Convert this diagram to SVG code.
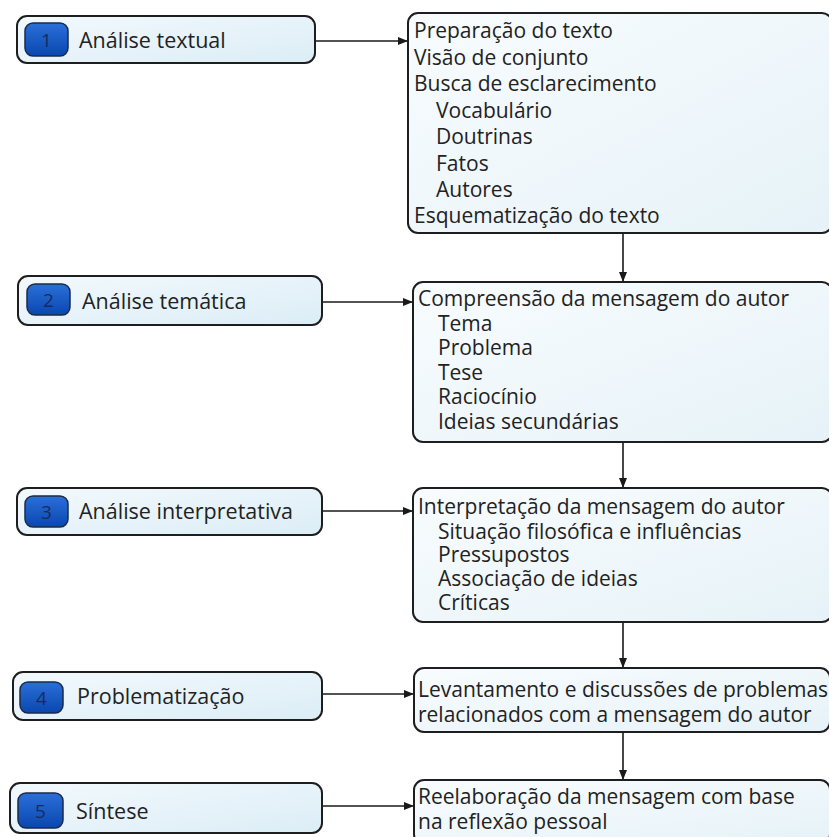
<svg xmlns="http://www.w3.org/2000/svg" width="829" height="837" viewBox="0 0 829 837">
<defs>
<linearGradient id="gLeft" x1="0" y1="0" x2="1" y2="1">
<stop offset="0" stop-color="#f2f9fd"/>
<stop offset="1" stop-color="#dcedf6"/>
</linearGradient>
<linearGradient id="gRight" x1="0" y1="0" x2="1" y2="1">
<stop offset="0" stop-color="#f8fcfe"/>
<stop offset="1" stop-color="#e6f2f8"/>
</linearGradient>
<linearGradient id="gBadge" x1="0" y1="0" x2="0" y2="1">
<stop offset="0" stop-color="#2a6fd8"/>
<stop offset="1" stop-color="#0a47b0"/>
</linearGradient>
<marker id="arr" viewBox="0 0 10 10" refX="10" refY="5" markerWidth="10" markerHeight="10" markerUnits="userSpaceOnUse" orient="auto">
<path d="M0,1 L10,5 L0,9 z" fill="#1a1a1a"/>
</marker>
<style>
.lbox{fill:url(#gLeft);stroke:#1e1e1e;stroke-width:2}
.rbox{fill:url(#gRight);stroke:#1e1e1e;stroke-width:2}
.badge{fill:url(#gBadge);stroke:#1c2a4a;stroke-width:1.5}
.num{font-family:"Open Sans","Noto Sans",sans-serif;font-size:19px;fill:#1b2a5e;text-anchor:middle}
.t{font-family:"Open Sans","Noto Sans",sans-serif;font-size:21px;fill:#222}
.lt{font-family:"Open Sans","Noto Sans",sans-serif;font-size:21.5px;fill:#222}
.con{stroke:#1a1a1a;stroke-width:1.6;fill:none;marker-end:url(#arr)}
</style>
</defs>
<rect width="829" height="837" fill="#ffffff"/>

<g id="connectors">
<line class="con" x1="315" y1="41" x2="408" y2="41"/>
<line class="con" x1="322" y1="302" x2="413" y2="302"/>
<line class="con" x1="322" y1="511" x2="413" y2="511"/>
<line class="con" x1="322" y1="694" x2="414" y2="694"/>
<line class="con" x1="322" y1="806" x2="414" y2="806"/>
<line class="con" x1="623" y1="234" x2="623" y2="282"/>
<line class="con" x1="623" y1="443" x2="623" y2="488"/>
<line class="con" x1="623" y1="623" x2="623" y2="668"/>
<line class="con" x1="623" y1="733" x2="623" y2="780"/>
</g>

<g id="step1">
<rect class="lbox" x="17" y="16" width="298" height="47" rx="10"/>
<rect class="badge" x="25" y="23" width="43" height="33" rx="8"/>
<text class="num" x="46.5" y="46.5">1</text>
<text class="lt" x="79" y="48">Análise textual</text>
</g>
<g id="step2">
<rect class="lbox" x="18" y="276" width="304" height="49" rx="10"/>
<rect class="badge" x="27" y="284" width="43" height="31" rx="8"/>
<text class="num" x="48.5" y="306.5">2</text>
<text class="lt" x="82" y="309">Análise temática</text>
</g>
<g id="step3">
<rect class="lbox" x="17" y="488" width="305" height="47" rx="10"/>
<rect class="badge" x="25" y="496" width="43" height="31" rx="8"/>
<text class="num" x="46.5" y="518.5">3</text>
<text class="lt" x="79" y="519">Análise interpretativa</text>
</g>
<g id="step4">
<rect class="lbox" x="13" y="672" width="309" height="48" rx="10"/>
<rect class="badge" x="20" y="682" width="43" height="31" rx="8"/>
<text class="num" x="41.5" y="704.5">4</text>
<text class="lt" x="77" y="704">Problematização</text>
</g>
<g id="step5">
<rect class="lbox" x="10" y="783" width="312" height="50" rx="10"/>
<rect class="badge" x="18" y="793" width="45" height="35" rx="8"/>
<text class="num" x="40.5" y="817.5">5</text>
<text class="lt" x="76" y="819">Síntese</text>
</g>

<g id="box1">
<rect class="rbox" x="408" y="13" width="424" height="220" rx="10"/>
<text class="t" x="414" y="38">Preparação do texto</text>
<text class="t" x="414" y="65">Visão de conjunto</text>
<text class="t" x="414" y="91">Busca de esclarecimento</text>
<text class="t" x="436" y="118">Vocabulário</text>
<text class="t" x="436" y="144">Doutrinas</text>
<text class="t" x="436" y="171">Fatos</text>
<text class="t" x="436" y="197">Autores</text>
<text class="t" x="414" y="223">Esquematização do texto</text>
</g>
<g id="box2">
<rect class="rbox" x="413" y="282" width="419" height="160" rx="10"/>
<text class="t" x="418" y="306">Compreensão da mensagem do autor</text>
<text class="t" x="438" y="331">Tema</text>
<text class="t" x="438" y="355">Problema</text>
<text class="t" x="438" y="380">Tese</text>
<text class="t" x="438" y="404">Raciocínio</text>
<text class="t" x="438" y="429">Ideias secundárias</text>
</g>
<g id="box3">
<rect class="rbox" x="413" y="488" width="419" height="134" rx="10"/>
<text class="t" x="418" y="514">Interpretação da mensagem do autor</text>
<text class="t" x="438" y="539">Situação filosófica e influências</text>
<text class="t" x="438" y="562">Pressupostos</text>
<text class="t" x="438" y="586">Associação de ideias</text>
<text class="t" x="438" y="610">Críticas</text>
</g>
<g id="box4">
<rect class="rbox" x="414" y="668" width="416" height="64" rx="10"/>
<text class="t" x="418" y="697">Levantamento e discussões de problemas</text>
<text class="t" x="418" y="722">relacionados com a mensagem do autor</text>
</g>
<g id="box5">
<rect class="rbox" x="414" y="780" width="416" height="64" rx="10"/>
<text class="t" x="418" y="804">Reelaboração da mensagem com base</text>
<text class="t" x="418" y="829">na reflexão pessoal</text>
</g>
</svg>
